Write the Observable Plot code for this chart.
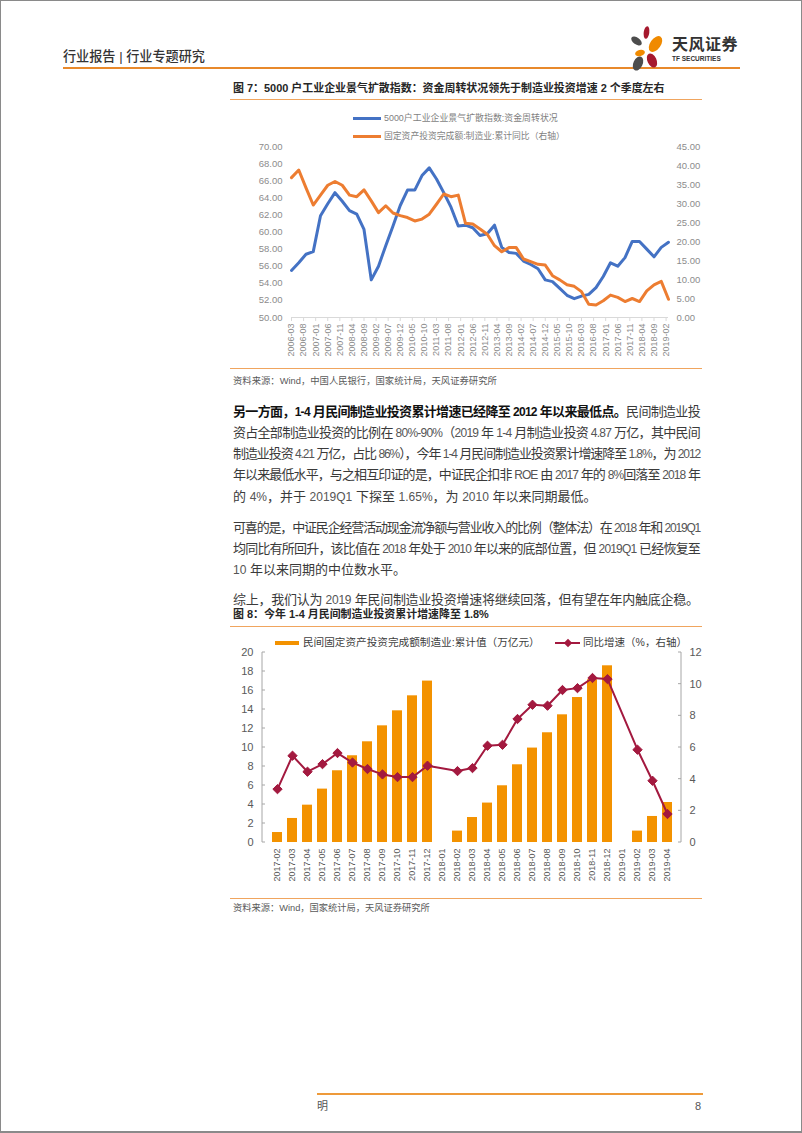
<!DOCTYPE html>
<html><head><meta charset="utf-8">
<script src="https://cdn.jsdelivr.net/npm/d3@7"></script>
<script src="https://cdn.jsdelivr.net/npm/@observablehq/plot@0.6"></script>
<style>
body{margin:0;background:#fff;}
#page{position:relative;width:802px;height:1133px;overflow:hidden;background:#fff;font-family:"Liberation Sans","Noto Sans CJK SC",sans-serif;color:#3a3a3a;}
#border{position:absolute;left:0;top:0;width:802px;height:1133px;box-sizing:border-box;border:1px solid #8a8a8a;border-bottom-width:2px;pointer-events:none;z-index:20}
.abs{position:absolute;white-space:nowrap;}
.hr{position:absolute;background:#F0A55E;height:1.5px;}
.title{font-size:11px;font-weight:bold;color:#262626;}
.src{font-size:9px;color:#595959;}
.ln{position:absolute;left:233px;width:467px;font-size:13px;line-height:21px;white-space:nowrap;color:#3a3a3a;}
.ln.j{text-align:justify;text-align-last:justify;}
.ln b{color:#111;}
.ln .n{font-size:12px;color:#555;}
.ln b .n{color:#111;}
.leg{font-size:9px;color:#7f7f7f;}
.leg2{font-size:10.5px;color:#404040;}
svg.chart{position:absolute;}
</style>
</head><body>
<div id="page">
  <div id="border"></div>
  <div class="abs fit" data-w="142" style="left:63px;top:48px;font-size:13px;color:#333;font-weight:500;line-height:18px;">行业报告 | 行业专题研究</div>
  <div class="abs" style="left:63px;top:67px;width:677px;height:2px;background:#E8892B;"></div>
  <svg class="abs" style="left:625px;top:20px;" width="48" height="55" viewBox="625 20 48 55">
    <ellipse cx="646.5" cy="32.5" rx="2.8" ry="6.3" fill="#A6192E" transform="rotate(8 646.5 32.5)"/>
    <ellipse cx="636.5" cy="41" rx="6" ry="3.4" fill="#4D4D4D" transform="rotate(35 636.5 41)"/>
    <ellipse cx="655.5" cy="44" rx="9" ry="5.3" fill="#F08A00" transform="rotate(-55 655.5 44)"/>
    <ellipse cx="640" cy="53" rx="5" ry="3" fill="#F08A00" transform="rotate(-15 640 53)"/>
    <ellipse cx="638" cy="63.5" rx="4.6" ry="7.5" fill="#4D4D4D" transform="rotate(25 638 63.5)"/>
    <ellipse cx="652" cy="60.5" rx="4.5" ry="7.5" fill="#A6192E" transform="rotate(-25 652 60.5)"/>
  </svg>
  <div class="abs" style="left:672px;top:35px;font-size:16px;font-weight:bold;color:#333;line-height:20px;letter-spacing:0.5px;">天风证券</div>
  <div class="abs" style="left:672px;top:55px;font-size:6.5px;font-weight:bold;color:#333;line-height:8px;">TF SECURITIES</div>

  <div class="abs title fit" data-w="432" style="left:233px;top:80px;line-height:16px;">图 7：5000 户工业企业景气扩散指数：资金周转状况领先于制造业投资增速 2 个季度左右</div>
  <div class="hr" style="left:230px;top:98.5px;width:472px;"></div>
  <div class="abs" style="left:353px;top:116.5px;width:28px;height:3px;background:#4472C4;z-index:5"></div>
  <div class="abs leg fit" data-w="174" style="left:384px;top:111px;line-height:14px;z-index:5">5000户工业企业景气扩散指数:资金周转状况</div>
  <div class="abs" style="left:353px;top:134.5px;width:28px;height:3px;background:#ED7D31;z-index:5"></div>
  <div class="abs leg fit" data-w="181" style="left:384px;top:129px;line-height:14px;z-index:5">固定资产投资完成额:制造业:累计同比（右轴）</div>
  <div id="c1"></div>
  <div class="hr" style="left:230px;top:367.5px;width:472px;"></div>
  <div class="abs src fit" data-w="264" style="left:233px;top:375px;line-height:12px;">资料来源：Wind，中国人民银行，国家统计局，天风证券研究所</div>

  <div class="ln j" style="top:400.5px;"><span><b>另一方面，1-4 月民间制造业投资累计增速已经降至 2012 年以来最低点。</b>民间制造业投</span></div>
  <div class="ln j" style="top:421.5px;"><span>资占全部制造业投资的比例在 80%-90%（2019 年 1-4 月制造业投资 4.87 万亿，其中民间</span></div>
  <div class="ln j" style="top:442.5px;"><span>制造业投资 4.21 万亿，占比 86%），今年 1-4 月民间制造业投资累计增速降至 1.8%，为 2012</span></div>
  <div class="ln j" style="top:464px;"><span>年以来最低水平，与之相互印证的是，中证民企扣非 ROE 由 2017 年的 8%回落至 2018 年</span></div>
  <div class="ln" style="top:485.5px;"><span>的 4%，并于 2019Q1 下探至 1.65%，为 2010 年以来同期最低。</span></div>
  <div class="ln j" style="top:516.5px;"><span>可喜的是，中证民企经营活动现金流净额与营业收入的比例（整体法）在 2018 年和 2019Q1</span></div>
  <div class="ln j" style="top:537.5px;"><span>均同比有所回升，该比值在 2018 年处于 2010 年以来的底部位置，但 2019Q1 已经恢复至</span></div>
  <div class="ln" style="top:558.5px;"><span>10 年以来同期的中位数水平。</span></div>
  <div class="ln" style="top:588.5px;"><span>综上，我们认为 2019 年民间制造业投资增速将继续回落，但有望在年内触底企稳。</span></div>

  <div class="abs title fit" data-w="256" style="left:233px;top:606px;line-height:16px;">图 8：今年 1-4 月民间制造业投资累计增速降至 1.8%</div>
  <div class="hr" style="left:230px;top:625.5px;width:472px;"></div>
  <div class="abs" style="left:275px;top:640.5px;width:24px;height:4px;background:#F39200;z-index:5"></div>
  <div class="abs leg2 fit" data-w="237" style="left:303px;top:635px;line-height:15px;z-index:5">民间固定资产投资完成额制造业:累计值（万亿元）</div>
  <div class="abs" style="left:555px;top:641.5px;width:25px;height:2px;background:#A3193F;z-index:5"></div>
  <div class="abs" style="left:564.5px;top:639.5px;width:6px;height:6px;background:#A3193F;transform:rotate(45deg);z-index:5"></div>
  <div class="abs leg2 fit" data-w="104" style="left:583px;top:635px;line-height:15px;z-index:5">同比增速（%，右轴）</div>
  <div id="c2"></div>
  <div class="hr" style="left:230px;top:897.5px;width:472px;"></div>
  <div class="abs src fit" data-w="197" style="left:233px;top:902px;line-height:12px;">资料来源：Wind，国家统计局，天风证券研究所</div>

  <div class="abs" style="left:317px;top:1093px;width:386px;height:2px;background:#EE9A3A;"></div>
  <div class="abs" style="left:317px;top:1099px;font-size:11px;color:#555;line-height:14px;">明</div>
  <div class="abs" style="left:695px;top:1099px;font-size:11px;color:#555;line-height:14px;">8</div>
</div>
<script>
// ---------- Chart 1 data (quarterly) ----------
const quarters1 = ["2006-03","2006-06","2006-09","2006-12","2007-03","2007-06","2007-09","2007-12",
  "2008-03","2008-06","2008-09","2008-12","2009-03","2009-06","2009-09","2009-12",
  "2010-03","2010-06","2010-09","2010-12","2011-03","2011-06","2011-09","2011-12",
  "2012-03","2012-06","2012-09","2012-12","2013-03","2013-06","2013-09","2013-12",
  "2014-03","2014-06","2014-09","2014-12","2015-03","2015-06","2015-09","2015-12",
  "2016-03","2016-06","2016-09","2016-12","2017-03","2017-06","2017-09","2017-12",
  "2018-03","2018-06","2018-09","2018-12","2019-03"];
const diffusionIndex = [55.5,56.4,57.4,57.7,61.9,63.3,64.6,63.6,62.5,62.1,60.3,54.4,56.0,58.4,60.7,63.1,
  64.9,64.9,66.6,67.5,66.2,64.6,62.9,60.7,60.8,60.5,59.6,59.8,60.8,58.2,57.6,57.5,
  56.6,56.2,55.7,54.4,54.2,53.4,52.6,52.2,52.5,52.7,53.5,54.8,56.4,56.0,57.0,58.9,
  58.9,58.0,57.1,58.2,58.8];
const faiManufYoY = [36.8,38.8,34.1,29.6,32.2,34.8,35.8,34.8,32.2,31.8,33.6,30.7,27.6,29.4,27.5,26.8,
  26.3,25.4,25.9,27.2,29.8,32.5,31.8,32.2,24.8,24.6,23.3,21.9,18.9,17.3,18.4,18.4,
  15.4,14.7,14.0,13.8,11.0,9.9,8.6,8.2,6.8,3.5,3.3,4.4,5.9,5.3,4.2,5.0,
  4.2,7.0,8.6,9.5,4.8];
const xTickLabels1 = ["2006-03","2006-08","2007-01","2007-06","2007-11","2008-04","2008-09","2009-02",
  "2009-07","2009-12","2010-05","2010-10","2011-03","2011-08","2012-01","2012-06","2012-11",
  "2013-04","2013-09","2014-02","2014-07","2014-12","2015-05","2015-10","2016-03","2016-08",
  "2017-01","2017-06","2017-11","2018-04","2018-09","2019-02"];
const leftTicks1 = [50,52,54,56,58,60,62,64,66,68,70];
const rightTicks1 = [0,5,10,15,20,25,30,35,40,45];

// ---------- Chart 2 data (monthly) ----------
const months2 = ["2017-02","2017-03","2017-04","2017-05","2017-06","2017-07","2017-08","2017-09","2017-10","2017-11","2017-12",
  "2018-01","2018-02","2018-03","2018-04","2018-05","2018-06","2018-07","2018-08","2018-09","2018-10","2018-11","2018-12",
  "2019-01","2019-02","2019-03","2019-04"];
const privateManufCum = [1.05,2.53,3.93,5.62,7.55,9.13,10.6,12.28,13.86,15.44,16.99,
  null,1.2,2.63,4.15,5.97,8.18,9.94,11.55,13.44,15.26,17.13,18.6,
  null,1.2,2.74,4.21];
const privateManufYoY = [3.37,5.48,4.47,4.95,5.65,5.05,4.64,4.30,4.13,4.13,4.85,
  null,4.51,4.70,6.11,6.17,7.8,8.7,8.64,9.63,9.75,10.39,10.32,
  null,5.86,3.9,1.8];
const leftTicks2 = [0,2,4,6,8,10,12,14,16,18,20];
const rightTicks2 = [0,2,4,6,8,10,12];

const FONT = '"Liberation Sans","Noto Sans CJK SC",sans-serif';

// ---------- Chart 1 ----------
const monthIndex = s => (+s.slice(0,4) - 2006) * 12 + (+s.slice(5,7) - 3);
const L1 = [50,70], R1 = [0,45];
const toLeft1 = v => L1[0] + (v - R1[0]) * (L1[1]-L1[0]) / (R1[1]-R1[0]);
const fromLeft1 = v => R1[0] + (v - L1[0]) * (R1[1]-R1[0]) / (L1[1]-L1[0]);
const tickLabelByMonth = new Map(xTickLabels1.map(s => [monthIndex(s), s]));
const blueRows = quarters1.map((q,i) => ({m: monthIndex(q), v: diffusionIndex[i]}));
const orangeRows = quarters1.map((q,i) => ({m: monthIndex(q), v: faiManufYoY[i]}));

const c1 = Plot.plot({
  width: 480, height: 232,
  marginLeft: 66, marginRight: 37, marginTop: 16, marginBottom: 45,
  style: {background: "transparent", fontFamily: FONT, fontSize: "9.5px", color: "#8c8c8c", overflow: "visible"},
  x: {type: "linear", domain: [0, monthIndex(quarters1[quarters1.length-1])]},
  y: {domain: L1},
  marks: [
    Plot.ruleY([L1[0]], {stroke: "#D9D9D9"}),
    Plot.axisX({ticks: xTickLabels1.map(monthIndex), tickFormat: d => tickLabelByMonth.get(d), tickRotate: -90,
      tickSize: 4, tickPadding: 2, stroke: "#D9D9D9", fill: "#8c8c8c", fontSize: 9, label: null}),
    Plot.axisY({ticks: leftTicks1, tickFormat: d => d.toFixed(2), tickSize: 0, tickPadding: 9, label: null}),
    Plot.axisY({anchor: "right", ticks: rightTicks1.map(toLeft1), tickFormat: v => Math.abs(fromLeft1(v)).toFixed(2),
      tickSize: 0, tickPadding: 8, label: null}),
    Plot.line(blueRows, {x: "m", y: "v", stroke: "#4472C4", strokeWidth: 3, strokeLinejoin: "round", strokeLinecap: "round"}),
    Plot.line(orangeRows, {x: "m", y: d => toLeft1(d.v), stroke: "#ED7D31", strokeWidth: 3, strokeLinejoin: "round", strokeLinecap: "round"})
  ]
});
c1.classList.add("chart");
c1.style.left = "225px"; c1.style.top = "130px"; c1.style.position = "absolute";
document.getElementById("c1").appendChild(c1);

// ---------- Chart 2 ----------
const L2 = [0,20], R2 = [0,12];
const toLeft2 = v => L2[0] + (v - R2[0]) * (L2[1]-L2[0]) / (R2[1]-R2[0]);
const fromLeft2 = v => R2[0] + (v - L2[0]) * (R2[1]-R2[0]) / (L2[1]-L2[0]);
const barRows = months2.map((m,i) => ({m, v: privateManufCum[i]})).filter(d => d.v != null);
const lineRows = months2.map((m,i) => ({m, v: privateManufYoY[i]})).filter(d => d.v != null);
const RED = "#A3193F";

const c2 = Plot.plot({
  width: 480, height: 247,
  marginLeft: 37, marginRight: 24, marginTop: 12, marginBottom: 45,
  style: {background: "transparent", fontFamily: FONT, fontSize: "11px", color: "#595959", overflow: "visible"},
  x: {domain: months2, paddingInner: 0.35, paddingOuter: 0.175},
  y: {domain: L2},
  marks: [
    Plot.barY(barRows, {x: "m", y: "v", fill: "#F39200"}),
    Plot.line(lineRows, {x: "m", y: d => toLeft2(d.v), stroke: RED, strokeWidth: 2}),
    Plot.dot(lineRows, {x: "m", y: d => toLeft2(d.v), symbol: "diamond2", r: 4.2, fill: RED, stroke: RED, strokeWidth: 1}),
    Plot.axisX({tickRotate: -90, tickSize: 0, tickPadding: 6, fontSize: 9, label: null}),
    Plot.axisY({ticks: leftTicks2, tickSize: 0, tickPadding: 9, label: null}),
    Plot.axisY({anchor: "right", ticks: rightTicks2.map(toLeft2), tickFormat: v => Math.round(fromLeft2(v)), tickSize: 0, tickPadding: 8, label: null})
  ]
});
c2.classList.add("chart");
c2.style.left = "225px"; c2.style.top = "640px"; c2.style.position = "absolute";
document.getElementById("c2").appendChild(c2);
// axis lines + inward ticks from the chart's own scales
{
  const sx = c2.scale("x"), sy = c2.scale("y");
  const [xa, xb] = sx.range, [yb, yt] = sy.range;
  const g = d3.select(c2).append("g").attr("stroke", "#A6A6A6").attr("stroke-width", 1);
  g.append("line").attr("x1", xa).attr("x2", xa).attr("y1", yb).attr("y2", yt);
  g.append("line").attr("x1", xb).attr("x2", xb).attr("y1", yb).attr("y2", yt);
  leftTicks2.forEach(t => { const y = sy.apply(t); g.append("line").attr("x1", xa).attr("x2", xa + 3).attr("y1", y).attr("y2", y); });
  rightTicks2.forEach(t => { const y = sy.apply(toLeft2(t)); g.append("line").attr("x1", xb).attr("x2", xb - 3).attr("y1", y).attr("y2", y); });
}

// ---------- text layout helpers ----------
document.querySelectorAll(".fit").forEach(el => {
  const target = +el.dataset.w;
  const fs = parseFloat(getComputedStyle(el).fontSize);
  const w = el.getBoundingClientRect().width;
  if (w > 0) el.style.fontSize = (fs * target / w).toFixed(2) + "px";
});
// smaller, lighter Latin/digit runs in body text
document.querySelectorAll(".ln > span").forEach(root => {
  const walker = document.createTreeWalker(root, NodeFilter.SHOW_TEXT);
  const nodes = []; while (walker.nextNode()) nodes.push(walker.currentNode);
  nodes.forEach(t => {
    const parts = t.textContent.split(/([0-9A-Za-z][0-9A-Za-z.%\-]*)/);
    if (parts.length < 2) return;
    const frag = document.createDocumentFragment();
    parts.forEach((p, i) => {
      if (!p) return;
      if (i % 2) { const s = document.createElement("span"); s.className = "n"; s.textContent = p; frag.appendChild(s); }
      else frag.appendChild(document.createTextNode(p));
    });
    t.parentNode.replaceChild(frag, t);
  });
});
document.querySelectorAll(".ln").forEach(el => {
  const sp = el.querySelector("span");
  const w = sp.getBoundingClientRect().width;
  if (w > 467) {
    const n = sp.textContent.length;
    el.style.letterSpacing = ((467 - w) / n - 0.03) + "px";
  }
});
</script>
</body></html>
